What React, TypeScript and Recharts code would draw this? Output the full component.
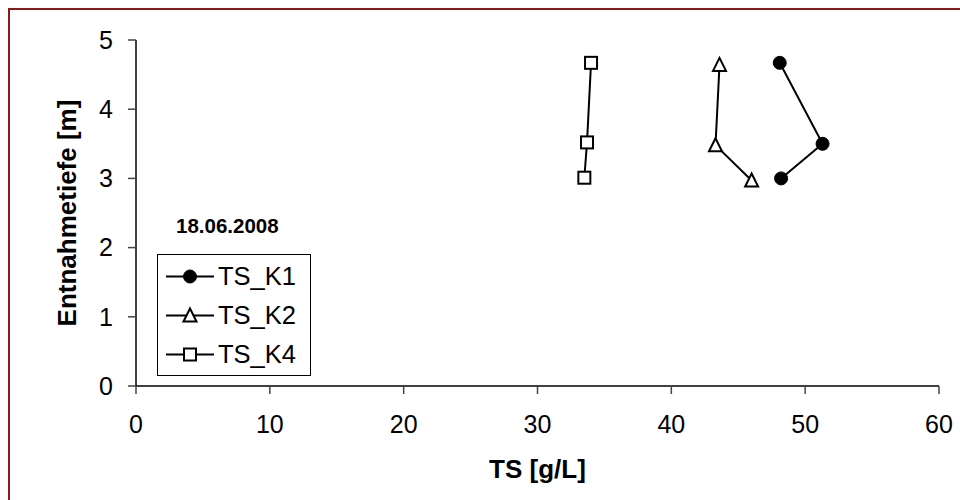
import React from 'react';
import { ScatterChart, Scatter, XAxis, YAxis, Legend, Label } from 'recharts';

// TS concentration [g/L] against sampling depth [m], sampled 18.06.2008
const seriesNames = ['TS_K1', 'TS_K2', 'TS_K4'];
const tsK1 = [48.1, 51.3, 48.2];
const depthK1 = [4.67, 3.5, 3.0];
const tsK2 = [43.6, 43.3, 46.0];
const depthK2 = [4.64, 3.48, 2.97];
const tsK4 = [34.0, 33.7, 33.5];
const depthK4 = [4.67, 3.52, 3.01];
const xTicks = [0, 10, 20, 30, 40, 50, 60];
const yTicks = [0, 1, 2, 3, 4, 5];
const sampleDate = '18.06.2008';

const toPoints = (xs: number[], ys: number[]) => xs.map((x, i) => ({ x, y: ys[i] }));
const dataK1 = toPoints(tsK1, depthK1);
const dataK2 = toPoints(tsK2, depthK2);
const dataK4 = toPoints(tsK4, depthK4);

const FONT = '"Liberation Sans", Arial, Helvetica, sans-serif';

type MarkerKind = 'circle' | 'triangle' | 'square';
const markerKinds: MarkerKind[] = ['circle', 'triangle', 'square'];

function Marker({ kind, cx, cy }: { kind: MarkerKind; cx: number; cy: number }) {
  if (kind === 'circle') {
    return <circle cx={cx} cy={cy} r={6.5} fill="#000" stroke="#000" strokeWidth={1} />;
  }
  if (kind === 'triangle') {
    const h = 12;
    const w = 13;
    const pts = `${cx},${cy - h / 2 - 1} ${cx - w / 2},${cy + h / 2} ${cx + w / 2},${cy + h / 2}`;
    return <polygon points={pts} fill="#fff" stroke="#000" strokeWidth={2} />;
  }
  return <rect x={cx - 6} y={cy - 6} width={12} height={12} fill="#fff" stroke="#000" strokeWidth={2} />;
}

const makeShape = (kind: MarkerKind) => (props: any) => (
  <Marker kind={kind} cx={props.cx} cy={props.cy} />
);

function LegendBox(props: any) {
  const payload = (props.payload || []) as any[];
  const names = payload.length ? payload.map((p) => p.value) : seriesNames;
  return (
    <div style={{ fontFamily: FONT, position: 'relative' }}>
      <div
        style={{
          fontWeight: 'bold',
          fontSize: 20.5,
          marginLeft: 19,
          marginBottom: 16,
          lineHeight: '24px',
          color: '#000',
        }}
      >
        {sampleDate}
      </div>
      <div
        style={{
          border: '1px solid #000',
          width: 152,
          height: 118,
          background: '#fff',
          boxSizing: 'content-box',
          paddingTop: 2,
        }}
      >
        {names.map((name: string, i: number) => (
          <div key={name} style={{ display: 'flex', alignItems: 'center', height: 39 }}>
            <svg width={58} height={39} style={{ display: 'block' }}>
              <line x1={8} x2={56} y1={19.5} y2={19.5} stroke="#000" strokeWidth={2} />
              <Marker kind={markerKinds[i]} cx={32} cy={19.5} />
            </svg>
            <span style={{ fontSize: 25.5, color: '#000', marginLeft: 2 }}>{name}</span>
          </div>
        ))}
      </div>
    </div>
  );
}

export default function App() {
  return (
    <div
      style={{
        position: 'absolute',
        left: 0,
        top: 0,
        width: 960,
        height: 500,
        overflow: 'hidden',
        background: '#fff',
      }}
    >
      <div
        style={{
          position: 'absolute',
          left: 8,
          top: 8,
          width: 1000,
          height: 600,
          border: '2px solid #8c1818',
        }}
      />
      <div style={{ position: 'absolute', left: 0, top: 0 }}>
        <ScatterChart
          width={960}
          height={500}
          margin={{ top: 40, right: 21, bottom: 54, left: 0 }}
          style={{ fontFamily: FONT }}
        >
          <XAxis
            type="number"
            dataKey="x"
            domain={[0, 60]}
            ticks={xTicks}
            interval={0}
            height={60}
            tickSize={8}
            tickMargin={21}
            axisLine={{ stroke: '#000', strokeWidth: 1.5 }}
            tickLine={{ stroke: '#444', strokeWidth: 1.5 }}
            tick={{ fill: '#000', fontSize: 25, fontFamily: FONT }}
          >
            <Label
              value="TS [g/L]"
              position="bottom"
              offset={14}
              style={{ fontWeight: 'bold', fontSize: 26, fill: '#000', fontFamily: FONT }}
            />
          </XAxis>
          <YAxis
            type="number"
            dataKey="y"
            domain={[0, 5]}
            ticks={yTicks}
            interval={0}
            width={136}
            tickSize={8}
            tickMargin={15}
            axisLine={{ stroke: '#000', strokeWidth: 1.5 }}
            tickLine={{ stroke: '#444', strokeWidth: 1.5 }}
            tick={{ fill: '#000', fontSize: 25, fontFamily: FONT }}
          >
            <Label
              value="Entnahmetiefe [m]"
              angle={-90}
              position="insideLeft"
              offset={67}
              style={{ fontWeight: 'bold', fontSize: 26, fill: '#000', textAnchor: 'middle', fontFamily: FONT }}
            />
          </YAxis>
          <Legend
            layout="vertical"
            align="center"
            verticalAlign="middle"
            content={LegendBox}
            wrapperStyle={{ left: 157, top: 214, width: 'auto', height: 'auto' }}
          />
          <Scatter
            name={seriesNames[0]}
            data={dataK1}
            fill="#000"
            stroke="#000"
            line={{ stroke: '#000', strokeWidth: 2 }}
            lineType="joint"
            shape={makeShape('circle')}
            isAnimationActive={false}
          />
          <Scatter
            name={seriesNames[1]}
            data={dataK2}
            fill="#000"
            stroke="#000"
            line={{ stroke: '#000', strokeWidth: 2 }}
            lineType="joint"
            shape={makeShape('triangle')}
            isAnimationActive={false}
          />
          <Scatter
            name={seriesNames[2]}
            data={dataK4}
            fill="#000"
            stroke="#000"
            line={{ stroke: '#000', strokeWidth: 2 }}
            lineType="joint"
            shape={makeShape('square')}
            isAnimationActive={false}
          />
        </ScatterChart>
      </div>
    </div>
  );
}
